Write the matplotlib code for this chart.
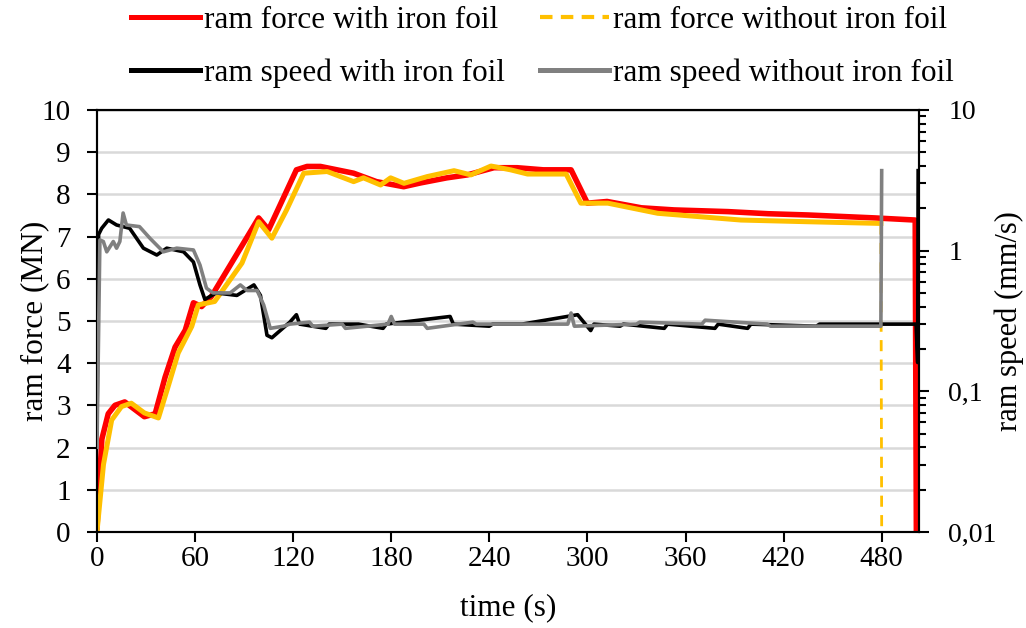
import matplotlib.pyplot as plt
from matplotlib.lines import Line2D
from matplotlib.ticker import FixedLocator, LogLocator, NullFormatter

plt.rcParams['font.family'] = ['Liberation Serif', 'DejaVu Serif']

# ram force with iron foil (MN)
t_force_foil = [0, 3, 6.9, 11, 17, 29, 35.6, 41.7, 47.8, 54, 59, 64, 70, 84.6, 98.9, 105,
                122, 128.5, 136.7, 157, 171, 187.6, 198, 214, 226.6, 242.8, 257, 273, 290,
                300, 312, 333, 353, 386, 410.5, 435, 476, 500.5, 501.2]
f_force_foil = [0.1, 2.2, 2.8, 3.0, 3.08, 2.73, 2.8, 3.67, 4.38, 4.78, 5.43, 5.34, 5.58, 6.52, 7.44, 7.16,
                8.58, 8.66, 8.66, 8.5, 8.3, 8.18, 8.27, 8.39, 8.46, 8.63, 8.63, 8.58, 8.58,
                7.79, 7.83, 7.68, 7.63, 7.59, 7.54, 7.51, 7.44, 7.39, 0]

# ram force without iron foil (MN)
t_force_nofoil = [0, 4, 9, 15, 21, 29, 37.6, 43.5, 49.7, 58, 62, 72, 88.7, 98.9, 107,
                  116, 126.5, 140.8, 157, 163, 173.5, 179.6, 187.8, 202, 218.4, 228.7, 241, 253,
                  263.4, 287, 296, 312.5, 343, 394, 435, 479.5, 480]
f_force_nofoil = [0, 1.6, 2.65, 2.97, 3.05, 2.82, 2.7, 3.44, 4.24, 4.87, 5.38, 5.46, 6.37, 7.35, 6.96,
                  7.63, 8.5, 8.54, 8.3, 8.39, 8.22, 8.39, 8.26, 8.42, 8.56, 8.46, 8.67, 8.58,
                  8.48, 8.48, 7.79, 7.79, 7.55, 7.39, 7.35, 7.31, 0]

# ram speed with iron foil (mm/s)
t_speed_foil = [0, 1, 2.9, 7, 12, 20, 28.4, 36.6, 42.7, 53, 59, 63, 66, 73, 85.6, 96, 100,
                104, 107, 118, 122, 124, 140, 142, 160, 175, 177, 216, 218, 240, 242,
                260, 294, 302, 304, 320, 322, 347, 349, 378, 380, 398, 400, 440, 442,
                501, 502, 502.3]
v_speed_foil = [0.05, 1.3, 1.44, 1.65, 1.52, 1.44, 1.04, 0.93, 1.04, 0.98, 0.83, 0.57, 0.45, 0.50, 0.48, 0.57, 0.48,
                0.25, 0.24, 0.31, 0.35, 0.30, 0.28, 0.30, 0.30, 0.28, 0.30, 0.34, 0.30, 0.29, 0.30,
                0.30, 0.35, 0.27, 0.30, 0.29, 0.30, 0.28, 0.30, 0.28, 0.30, 0.28, 0.30, 0.29, 0.30,
                0.30, 0.16, 3.7]

# ram speed without iron foil (mm/s)
t_speed_nofoil = [0, 1.8, 3.9, 6, 10, 12, 14, 16, 18, 26, 32.5, 40.6, 48.8, 59, 63, 67, 71,
                  81.5, 87.7, 91.8, 98, 102, 106, 114, 118, 130, 132, 150, 152, 178, 180, 182,
                  200, 202, 230, 232, 288, 290, 292, 330, 332, 370, 372, 410, 412,
                  479.5, 480]
v_speed_nofoil = [0.04, 1.19, 1.16, 0.98, 1.16, 1.04, 1.16, 1.85, 1.52, 1.48, 1.22, 0.98, 1.04, 1.01, 0.79, 0.54, 0.50,
                  0.50, 0.57, 0.52, 0.52, 0.41, 0.28, 0.29, 0.30, 0.31, 0.29, 0.30, 0.28, 0.30, 0.34, 0.30,
                  0.30, 0.28, 0.31, 0.30, 0.30, 0.36, 0.29, 0.30, 0.31, 0.30, 0.32, 0.30, 0.29,
                  0.29, 3.7]

red = '#ff0000'
yellow = '#ffc000'
grey = '#808080'

fig = plt.figure(figsize=(10.26, 6.28), dpi=100)
ax = fig.add_axes([0.0945, 0.153, 0.8015, 0.672])
ax2 = ax.twinx()

ax.plot(t_force_foil, f_force_foil, color=red, lw=4, zorder=2)
ax.plot(t_force_nofoil[:-1], f_force_nofoil[:-1], color=yellow, lw=3.6, zorder=3)
ax.plot(t_force_nofoil[-2:], f_force_nofoil[-2:], color=yellow, lw=2, ls=(0, (4, 3)), zorder=3)

ax.set_xlim(0, 503)
ax.set_ylim(0, 10)
ax.set_xticks(range(0, 481, 60))
ax.set_yticks(range(0, 11))
ax.grid(axis='y', color='#d9d9d9', lw=1.8)
ax.set_axisbelow(True)
ax.tick_params(direction='out', length=7, width=1.5, labelsize=21)
ax.tick_params(axis='y', pad=12)
ax.set_xlabel('time (s)', fontsize=22.5, labelpad=15)
ax.set_ylabel('ram force (MN)', fontsize=22.5)
ax.yaxis.set_label_coords(-0.058, 0.5)

ax2.plot(t_speed_foil, v_speed_foil, color='black', lw=2.6, zorder=4)
ax2.plot(t_speed_nofoil, v_speed_nofoil, color=grey, lw=2.6, zorder=5)
ax2.set_yscale('log')
ax2.set_ylim(0.01, 10)
ax2.yaxis.set_major_locator(FixedLocator([0.01, 0.1, 1, 10]))
ax2.set_yticklabels(['0,01', '0,1', '1', '10'])
ax2.yaxis.set_minor_locator(LogLocator(base=10, subs=range(2, 10)))
ax2.yaxis.set_minor_formatter(NullFormatter())
ax2.tick_params(which='major', direction='out', length=7, width=1.5, labelsize=20, pad=14)
ax2.tick_params(which='minor', direction='out', length=5, width=1.5)
ax2.set_ylabel('ram speed (mm/s)', fontsize=22)
ax2.yaxis.set_label_coords(1.092, 0.5)

for a in (ax, ax2):
    for s in a.spines.values():
        s.set_linewidth(1.5)

handles = [Line2D([], [], color=red, lw=3.6),
           Line2D([], [], color='black', lw=3.6),
           Line2D([], [], color=yellow, lw=3, ls=(0, (3, 2))),
           Line2D([], [], color=grey, lw=3.6)]
labels = ['ram force with iron foil', 'ram speed with iron foil',
          'ram force without iron foil', 'ram speed without iron foil']
fig.legend(handles, labels, ncol=2, loc='upper left', bbox_to_anchor=(131 / 1026, 0.99),
           frameon=False, fontsize=22.5, handlelength=2.2, handletextpad=0.15,
           columnspacing=1.1, labelspacing=0.75, borderpad=0, borderaxespad=0)

fig.savefig('out.png', dpi=100)
